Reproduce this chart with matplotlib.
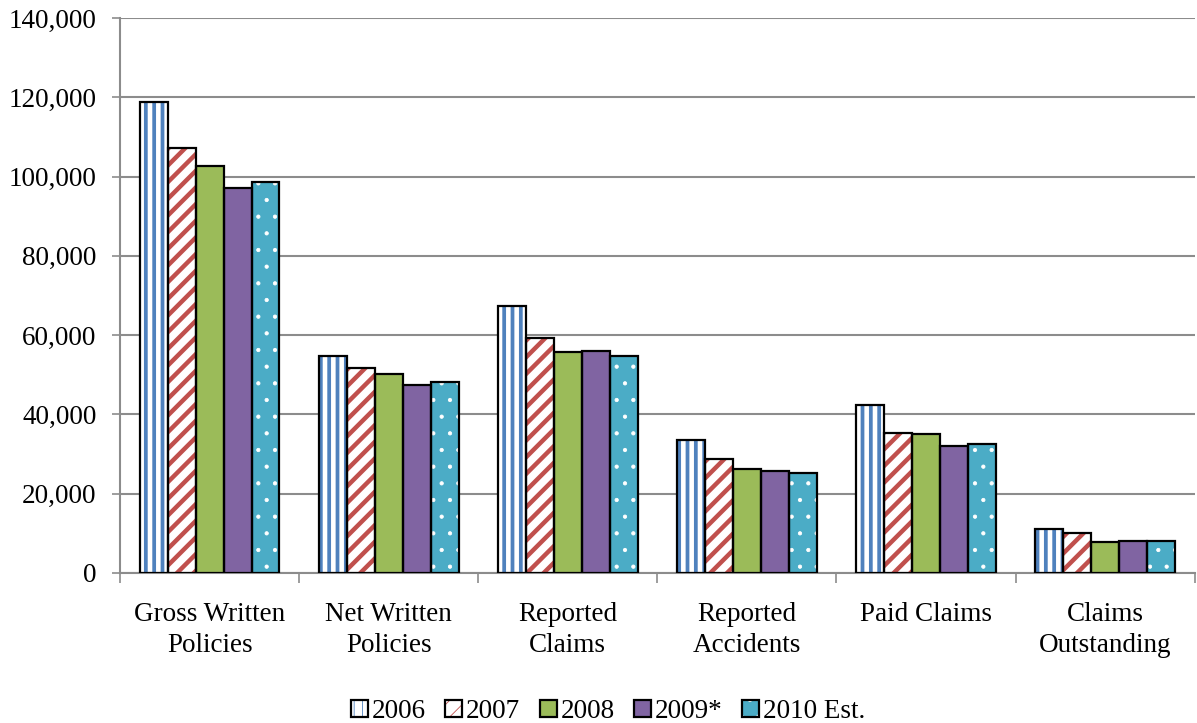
import numpy as np
import matplotlib
matplotlib.use('Agg')
from matplotlib import pyplot as plt
from matplotlib.patches import Patch
from matplotlib.legend_handler import HandlerTuple
from matplotlib.ticker import FuncFormatter, FixedLocator

plt.rcParams['font.family'] = ['Liberation Serif', 'DejaVu Serif']
plt.rcParams['font.size'] = 19.5

categories = ['Gross Written\nPolicies', 'Net Written\nPolicies', 'Reported\nClaims',
              'Reported\nAccidents', 'Paid Claims', 'Claims\nOutstanding']
years = ['2006', '2007', '2008', '2009*', '2010 Est.']

v2006 = [118800, 54700, 67300, 33500, 42400, 11000]
v2007 = [107200, 51700, 59300, 28800, 35300, 10000]
v2008 = [102700, 50200, 55700, 26200, 35100, 7800]
v2009 = [97100, 47400, 56000, 25700, 32100, 8100]
v2010 = [98600, 48200, 54800, 25100, 32500, 8100]
series = [v2006, v2007, v2008, v2009, v2010]

# (face, hatch colour, hatch)
styles = [('white', '#4F81BD', '||'),
          ('white', '#C0504D', '//'),
          ('#9BBB59', '#9BBB59', None),
          ('#8064A2', '#8064A2', None),
          ('#4BACC6', 'white', '.')]
hatch_lw = [2.7, 3.2, 1, 1, 0.6]

fig = plt.figure(figsize=(11.97, 7.23), dpi=100)
ax = fig.add_axes([0.1003, 0.2075, 0.8977, 0.7676])

x = np.arange(len(categories))
w = 0.156
handles = []
for i, vals in enumerate(series):
    fc, hc, h = styles[i]
    pos = x + (i - 2) * w
    plt.rcParams['hatch.linewidth'] = hatch_lw[i]
    b1 = ax.bar(pos, vals, w, color=fc, edgecolor=hc, hatch=h, linewidth=0, zorder=2)
    for p in b1:
        if hasattr(p, 'set_hatch_linewidth'):
            p.set_hatch_linewidth(hatch_lw[i])
    ax.bar(pos, vals, w, fill=False, edgecolor='black', linewidth=1.6, zorder=3)
    ph = Patch(facecolor=fc, edgecolor=hc, hatch=h, linewidth=0)
    if hasattr(ph, 'set_hatch_linewidth'):
        ph.set_hatch_linewidth(hatch_lw[i])
    po = Patch(fill=False, edgecolor='black', linewidth=1.6)
    handles.append((ph, po))

ax.set_xlim(-0.5, 5.5)
ax.set_ylim(0, 140000)
ax.set_yticks(np.arange(0, 140001, 20000))
ax.yaxis.set_major_formatter(FuncFormatter(lambda v, p: f'{int(v):,}'))
ax.yaxis.grid(True, color='#8c8c8c', linewidth=1.5, zorder=0)
ax.set_axisbelow(True)

ax.xaxis.set_major_locator(FixedLocator(np.arange(-0.5, 5.6, 1)))
ax.xaxis.set_minor_locator(FixedLocator(x))
ax.set_xticklabels([])
ax.set_xticklabels(categories, minor=True, linespacing=1.3)
ax.tick_params(axis='x', which='major', length=7, width=1.2, color='#8c8c8c', direction='out')
ax.tick_params(axis='x', which='minor', length=0, pad=21)
ax.tick_params(axis='y', length=6, width=1.2, color='#8c8c8c', pad=11)

for s in ['top', 'right']:
    ax.spines[s].set_visible(False)
for s in ['left', 'bottom']:
    ax.spines[s].set_color('#8c8c8c')
    ax.spines[s].set_linewidth(1.5)

fig.legend(handles, years, loc='center', bbox_to_anchor=(0.508, 0.016),
           ncol=5, frameon=False, handlelength=0.62, handleheight=0.62,
           handletextpad=0.15, columnspacing=0.72,
           handler_map={tuple: HandlerTuple(ndivide=1)})

fig.savefig('out.png', dpi=100)
